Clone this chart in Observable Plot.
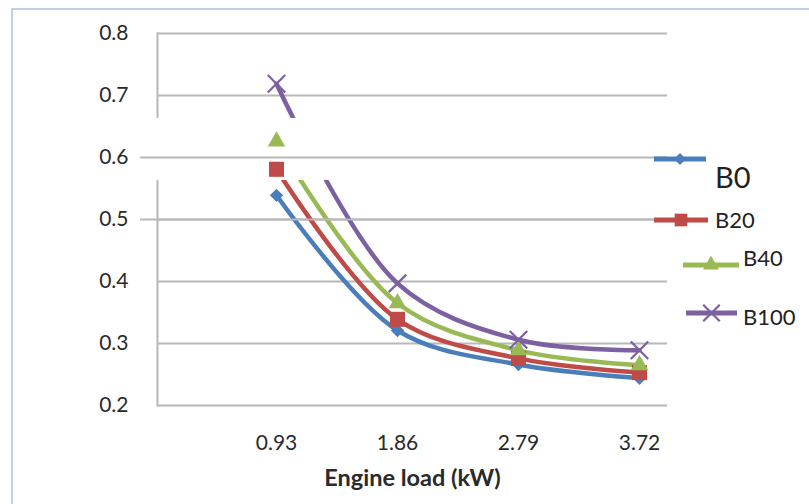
<!DOCTYPE html>
<html>
<head>
<meta charset="utf-8">
<script src="https://cdn.jsdelivr.net/npm/d3@7"></script>
<script src="https://cdn.jsdelivr.net/npm/@observablehq/plot@0.6"></script>
<style>
  html, body { margin: 0; padding: 0; background: #fff; }
  body { width: 809px; height: 504px; position: relative; overflow: hidden; font-family: Lato, "Open Sans", sans-serif; }
  #border { position: absolute; left: 11px; top: 8px; width: 900px; height: 600px; border-left: 2px solid #bcd0e6; border-top: 2px solid #bcd0e6; }
  #chart { position: absolute; left: 0; top: 0; }
  .leg { position: absolute; }
  .leg svg { position: absolute; overflow: visible; }
  .leg span { position: absolute; color: #222; white-space: nowrap; line-height: 1; }
</style>
</head>
<body>
<div id="border"></div>
<div id="chart"></div>
<div id="legend"></div>
<script>
// ---- data ----
const loads = ["0.93", "1.86", "2.79", "3.72"];
const B0   = [0.539, 0.321, 0.266, 0.244];
const B20  = [0.581, 0.339, 0.276, 0.253];
const B40  = [0.626, 0.365, 0.289, 0.265];
const B100 = [0.719, 0.397, 0.306, 0.289];
const seriesNames = ["B0", "B20", "B40", "B100"];
const yTicks = [0.2, 0.3, 0.4, 0.5, 0.6, 0.7, 0.8];
const axisBreak = [0.563, 0.663]; // gap in the axis of the original picture

const colors = ["#4a7ebb", "#be4b48", "#98b954", "#7d60a0"];
const symbols = ["diamond2", "square", "triangle", "times"];
const radii = [6, 8.5, 6.5, 8];

const seriesValues = [B0, B20, B40, B100];
const rows = [];
seriesNames.forEach((s, i) => loads.forEach((l, j) => rows.push({series: s, load: l, value: seriesValues[i][j]})));

const marks = [
  Plot.ruleY(yTicks, {stroke: "#b8b8b8", strokeWidth: 2}),
  Plot.frame({anchor: "left", stroke: "#b8b8b8", strokeWidth: 2}),
];
seriesNames.forEach((s, i) => {
  marks.push(Plot.line(rows.filter(d => d.series === s), {
    x: "load", y: "value", stroke: colors[i], strokeWidth: 4.5, curve: "catmull-rom"
  }));
});
marks.push(Plot.rect([axisBreak], {y1: d => d[0], y2: d => d[1], fill: "white", insetLeft: -4}));
marks.push(Plot.ruleY([0.5, 0.6], {stroke: "#b8b8b8", strokeWidth: 2, insetLeft: -17}));
seriesNames.forEach((s, i) => {
  const d = rows.filter(r => r.series === s);
  if (symbols[i] === "times") {
    marks.push(Plot.dot(d, {x: "load", y: "value", symbol: "times", r: radii[i], stroke: colors[i], strokeWidth: 2.2}));
  } else {
    marks.push(Plot.dot(d, {x: "load", y: "value", symbol: symbols[i], r: radii[i], fill: colors[i], stroke: "none"}));
  }
});
marks.push(Plot.axisY(yTicks, {tickSize: 0, tickPadding: 29, tickFormat: d3.format(".1f"), fontSize: 21, fill: "#2a2a2a", label: null}));
marks.push(Plot.axisX(loads, {tickSize: 0, tickPadding: 30, fontSize: 21, fill: "#2a2a2a", label: null}));
marks.push(Plot.text(["Engine load (kW)"], {frameAnchor: "bottom", dy: 80, fontSize: 23.5, fontWeight: "bold", fill: "#2a2a2a"}));

const plot = Plot.plot({
  width: 809,
  height: 504,
  marginLeft: 157,
  marginRight: 142,
  marginTop: 33,
  marginBottom: 99,
  style: {fontFamily: "Lato, 'Open Sans', sans-serif", background: "transparent", overflow: "visible"},
  x: {type: "point", domain: loads, range: [275, 640], padding: 0, axis: null},
  y: {type: "linear", domain: [0.2, 0.8], axis: null},
  marks
});
document.getElementById("chart").appendChild(plot);

// ---- legend (irregular layout as in the reference) ----
const legendLayout = [
  {x1: 654, x2: 706, y: 159, tx: 715, ty: 176, fs: 29},
  {x1: 654, x2: 708, y: 220, tx: 715, ty: 220, fs: 22},
  {x1: 683, x2: 739, y: 265, tx: 743, ty: 258, fs: 22},
  {x1: 686, x2: 737, y: 313, tx: 743, ty: 317, fs: 22},
];
const legendSymbols = [d3.symbolDiamond2, d3.symbolSquare, d3.symbolTriangle, d3.symbolTimes];
const legendSizes = [90, 160, 110, 180];
const legend = document.getElementById("legend");
seriesNames.forEach((s, i) => {
  const L = legendLayout[i];
  const div = document.createElement("div");
  div.className = "leg";
  div.style.left = "0px"; div.style.top = "0px";
  const svg = d3.create("svg").attr("width", 809).attr("height", 504).style("left", "0px").style("top", "0px");
  svg.append("line").attr("x1", L.x1).attr("x2", L.x2).attr("y1", L.y).attr("y2", L.y)
    .attr("stroke", colors[i]).attr("stroke-width", 5);
  const p = svg.append("path").attr("d", d3.symbol(legendSymbols[i], legendSizes[i])())
    .attr("transform", `translate(${(L.x1 + L.x2) / 2},${L.y})`);
  if (i === 3) p.attr("fill", "none").attr("stroke", colors[i]).attr("stroke-width", 2.2);
  else p.attr("fill", colors[i]);
  div.appendChild(svg.node());
  const span = document.createElement("span");
  span.textContent = s;
  span.style.left = L.tx + "px";
  span.style.top = (L.ty - L.fs * 0.5) + "px";
  span.style.fontSize = L.fs + "px";
  div.appendChild(span);
  legend.appendChild(div);
});
</script>
</body>
</html>
